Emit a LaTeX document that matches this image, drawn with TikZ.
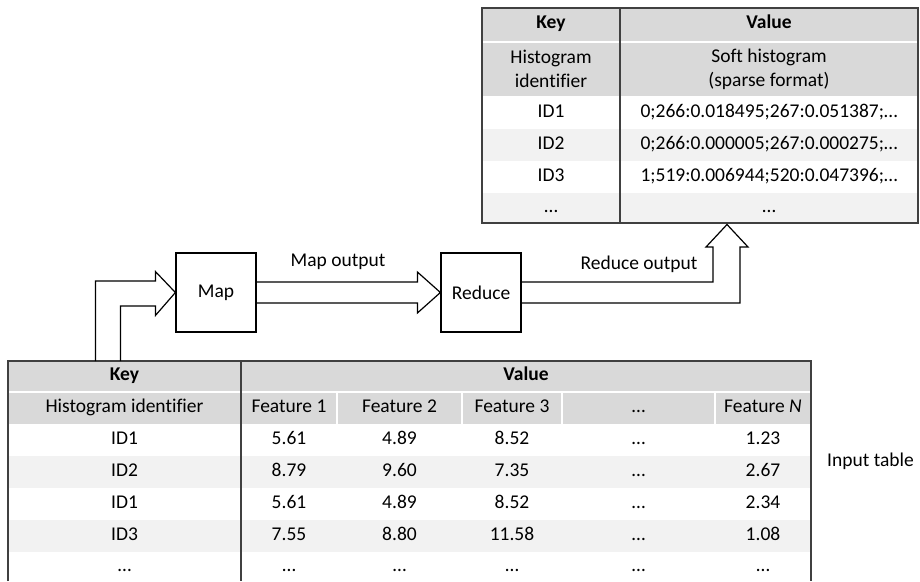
\documentclass[tikz,border=0pt]{standalone}
\usepackage{fontspec}
\setmainfont{Carlito}[Ligatures=NoCommon]
\usetikzlibrary{calc}
\definecolor{headgray}{HTML}{D9D9D9}
\definecolor{rowgray}{HTML}{F2F2F2}
\definecolor{rulegray}{HTML}{404040}
\begin{document}
\begin{tikzpicture}[x=1pt, y=-1pt, font=\fontsize{19.5}{24}\selectfont,
  cell/.style={inner sep=0pt, text height=13.5pt, text depth=4.5pt},
  twoline/.style={inner sep=0pt, align=center},
  box/.style={draw, line width=1.2pt, minimum width=80pt, minimum height=79pt, inner sep=0pt},
  blockarrow/.style={draw, line width=1.2pt, line join=miter},
  rule/.style={rulegray, line width=1.5pt},
  sep/.style={white, line width=2pt}]
\useasboundingbox (0,0) rectangle (920,581);
\fill[headgray] (482,8) rectangle (918,96);
\draw[sep] (482,41.5) -- (918,41.5);
\fill[rowgray] (482,129) rectangle (918,161);
\fill[rowgray] (482,193) rectangle (918,223);
\draw[rule] (482,223) -- (482,8) -- (918,8) -- (918,223) -- cycle;
\draw[rule] (620,8) -- (620,223);
\node[cell] (tkey) at (551,24) {\bfseries Key};
\node[cell] (tval) at (769,24) {\bfseries Value};
\node[twoline] (thid) at (551,69) {Histogram\\identifier};
\node[twoline] (tsoft) at (769,69) {Soft histogram\\(sparse format)};
\node[cell] (tid1) at (551,112.5) {ID1};
\node[cell] (tv1) at (769,112.5) {0;266:0.018495;267:0.051387;…};
\node[cell] (tid2) at (551,145) {ID2};
\node[cell] (tv2) at (769,145) {0;266:0.000005;267:0.000275;…};
\node[cell] (tid3) at (551,177) {ID3};
\node[cell] (tv3) at (769,177) {1;519:0.006944;520:0.047396;…};
\node[cell] (tidx) at (551,208) {…};
\node[cell] (tvx) at (769,208) {…};
\fill[headgray] (8,361) rectangle (811,424);
\draw[sep] (8,392) -- (811,392);
\draw[sep] (337,393) -- (337,424);
\draw[sep] (462,393) -- (462,424);
\draw[sep] (562,393) -- (562,424);
\draw[sep] (715,393) -- (715,424);
\fill[rowgray] (8,456) rectangle (811,488);
\fill[rowgray] (8,520) rectangle (811,552);
\draw[rule] (8,581) -- (8,361) -- (811,361) -- (811,581);
\draw[rule] (241,361) -- (241,581);
\node[cell] (ikey) at (124.5,376) {\bfseries Key};
\node[cell] (ival) at (526,376) {\bfseries Value};
\node[cell] (ihid) at (124.5,408) {Histogram identifier};
\node[cell] (if1) at (289,408) {Feature 1};
\node[cell] (if2) at (399.5,408) {Feature 2};
\node[cell] (if3) at (512,408) {Feature 3};
\node[cell] (ifx) at (638.5,408) {…};
\node[cell] (ifn) at (763,408) {Feature \textit{N}};
\node[cell] (ia) at (124.5,440) {ID1};
\node[cell] (ia1) at (289,440) {5.61};
\node[cell] (ia2) at (399.5,440) {4.89};
\node[cell] (ia3) at (512,440) {8.52};
\node[cell] (iax) at (638.5,440) {…};
\node[cell] (ian) at (763,440) {1.23};
\node[cell] (ib) at (124.5,472) {ID2};
\node[cell] (ib1) at (289,472) {8.79};
\node[cell] (ib2) at (399.5,472) {9.60};
\node[cell] (ib3) at (512,472) {7.35};
\node[cell] (ibx) at (638.5,472) {…};
\node[cell] (ibn) at (763,472) {2.67};
\node[cell] (ic) at (124.5,504) {ID1};
\node[cell] (ic1) at (289,504) {5.61};
\node[cell] (ic2) at (399.5,504) {4.89};
\node[cell] (ic3) at (512,504) {8.52};
\node[cell] (icx) at (638.5,504) {…};
\node[cell] (icn) at (763,504) {2.34};
\node[cell] (id) at (124.5,536) {ID3};
\node[cell] (id1) at (289,536) {7.55};
\node[cell] (id2) at (399.5,536) {8.80};
\node[cell] (id3) at (512,536) {11.58};
\node[cell] (idx) at (638.5,536) {…};
\node[cell] (idn) at (763,536) {1.08};
\node[cell] (ie) at (124.5,567) {…};
\node[cell] (ie1) at (289,567) {…};
\node[cell] (ie2) at (399.5,567) {…};
\node[cell] (ie3) at (512,567) {…};
\node[cell] (iex) at (638.5,567) {…};
\node[cell] (ien) at (763,567) {…};
\node[cell] (inlabel) at (870.5,462) {Input table};
\node[box] (map) at (216,292.5) {Map};
\node[box] (reduce) at (481,292.5) {Reduce};
\node[cell] (maplabel) at (338,262) {Map output};
\node[cell] (redlabel) at (639,265) {Reduce output};
\coordinate (rtip) at (727,224.5);
\draw[blockarrow] ($(map.west)+(-80,68.5)$) -- ($(map.west)+(-80,-11.5)$) -- ($(map.west)+(-20,-11.5)$) -- ($(map.west)+(-20,-21)$) -- (map.west) -- ($(map.west)+(-20,23)$) -- ($(map.west)+(-20,13.5)$) -- ($(map.west)+(-55,13.5)$) -- ($(map.west)+(-55,68.5)$);
\draw[blockarrow] ($(map.east)+(0,-10.5)$) -- ($(reduce.west)+(-23,-10.5)$) -- ($(reduce.west)+(-23,-20.5)$) -- (reduce.west) -- ($(reduce.west)+(-23,20.5)$) -- ($(reduce.west)+(-23,10.5)$) -- ($(map.east)+(0,10.5)$);
\draw[blockarrow] ($(reduce.east)+(0,-10.5)$) -- ($(rtip)+(-14,57.5)$) -- ($(rtip)+(-14,22.5)$) -- ($(rtip)+(-21,22.5)$) -- (rtip) -- ($(rtip)+(21,22.5)$) -- ($(rtip)+(13,22.5)$) -- ($(rtip)+(13,78.5)$) -- ($(reduce.east)+(0,10.5)$);
\end{tikzpicture}
\end{document}
